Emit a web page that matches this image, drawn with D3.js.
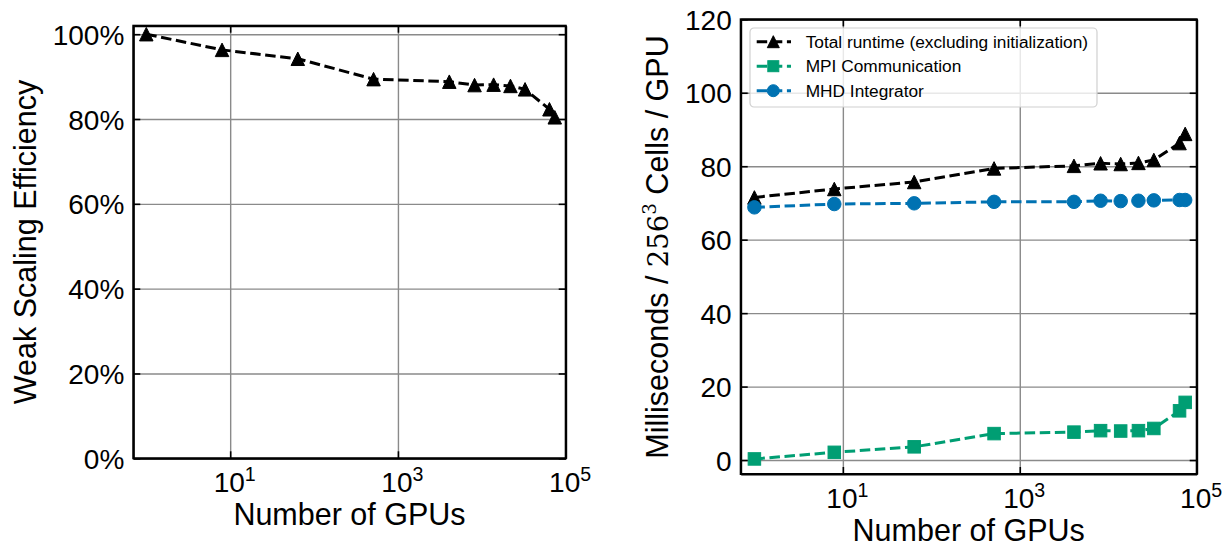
<!DOCTYPE html>
<html>
<head>
<meta charset="utf-8">
<script src="https://cdn.jsdelivr.net/npm/d3@7"></script>
<style>
  body { margin: 0; background: #fff; }
  svg { display: block; font-family: "Liberation Sans", Arial, Helvetica, sans-serif; }
</style>
</head>
<body>
<svg id="chart" width="1225" height="550"></svg>
<script>
// values
var gpus = [1, 8, 64, 512, 4096, 8192, 13824, 21952, 32768, 64000, 74088];
var efficiency = [100, 96.3, 94.2, 89.4, 88.8, 88.0, 88.1, 87.8, 87.0, 82.3, 80.4];
var totalRuntime = [71.5, 73.8, 75.7, 79.4, 80.1, 80.8, 80.6, 80.9, 81.7, 86.3, 88.8];
var mpiComm = [0.3, 2.1, 3.6, 7.2, 7.6, 8.0, 7.9, 8.0, 8.6, 13.4, 15.7];
var mhdIntegrator = [68.8, 69.7, 69.9, 70.3, 70.3, 70.6, 70.5, 70.6, 70.7, 70.8, 70.8];

var xTicks = [10, 1000, 100000];
var effTicks = [0, 20, 40, 60, 80, 100];
var msTicks = [0, 20, 40, 60, 80, 100, 120];

var seriesNames = ["Total runtime (excluding initialization)", "MPI Communication", "MHD Integrator"];
var seriesColors = ["#000000", "#009E73", "#0072B2"];
var seriesMarkers = ["triangle", "square", "circle"];

var svg = d3.select("#chart");
var tickFont = 28;
var labelFont = 30.5;
var markSize = 13.5;

function drawMarker(g, kind, color, size) {
	var h = size / 2;
	if (kind === "triangle") {
		g.append("path").attr("d", "M0," + (-h) + "L" + h + "," + h + "L" + (-h) + "," + h + "Z")
			.attr("fill", color).attr("stroke", color).attr("stroke-width", 1);
	} else if (kind === "square") {
		g.append("rect").attr("x", -h + 0.5).attr("y", -h + 0.5).attr("width", size - 1).attr("height", size - 1)
			.attr("fill", color).attr("stroke", color).attr("stroke-width", 1);
	} else {
		g.append("circle").attr("r", h).attr("fill", color).attr("stroke", color).attr("stroke-width", 1);
	}
}

function makePanel(box, yDomain, yTicks, yFmt) {
	var w = box.right - box.left, h = box.bottom - box.top;
	var x = d3.scaleLog().domain([0.7, 100000]).range([0, w]);
	var y = d3.scaleLinear().domain(yDomain).range([h, 0]);
	var g = svg.append("g").attr("transform", "translate(" + box.left + "," + box.top + ")");

	// grid
	var gx = g.append("g").attr("transform", "translate(0," + h + ")")
		.call(d3.axisBottom(x).tickValues(xTicks).tickSize(-h).tickFormat(""));
	var gy = g.append("g").call(d3.axisLeft(y).tickValues(yTicks).tickSize(-w).tickFormat(""));
	[gx, gy].forEach(function (s) {
		s.select(".domain").remove();
		s.selectAll("line").attr("stroke", "#8a8a8a").attr("stroke-width", 1.4);
	});

	var layer = g.append("g");

	// frame + inward ticks on all sides
	var bottom = g.append("g").attr("transform", "translate(0," + h + ")")
		.call(d3.axisBottom(x).tickValues(xTicks).tickSizeInner(-7).tickSizeOuter(0).tickPadding(10).tickFormat(""));
	var top = g.append("g").call(d3.axisTop(x).tickValues(xTicks).tickSizeInner(-7).tickSizeOuter(0).tickFormat(""));
	var left = g.append("g")
		.call(d3.axisLeft(y).tickValues(yTicks).tickSizeInner(-7).tickSizeOuter(0).tickPadding(9).tickFormat(yFmt));
	var right = g.append("g").attr("transform", "translate(" + w + ",0)")
		.call(d3.axisRight(y).tickValues(yTicks).tickSizeInner(-7).tickSizeOuter(0).tickFormat(""));
	[bottom, top, left, right].forEach(function (s) {
		s.select(".domain").attr("stroke", "#000").attr("stroke-width", 2);
		s.selectAll(".tick line").attr("stroke", "#000").attr("stroke-width", 1.6);
	});
	g.append("rect").attr("width", w).attr("height", h).attr("fill", "none")
		.attr("stroke", "#000").attr("stroke-width", 2);

	left.selectAll(".tick text").attr("font-size", tickFont).attr("fill", "#000")
		.attr("font-family", "Liberation Sans, Arial, sans-serif").attr("dy", "0.36em");

	bottom.selectAll(".tick text").each(function (d) {
		var t = d3.select(this).text("").attr("font-size", tickFont).attr("fill", "#000")
			.attr("font-family", "Liberation Sans, Arial, sans-serif").attr("dy", null).attr("y", 34);
		t.append("tspan").text("10");
		t.append("tspan").attr("font-size", tickFont * 0.7).attr("dy", -11)
			.text(Math.round(Math.log10(d)));
	});
	bottom.selectAll(".tick text").attr("text-anchor", "start").each(function () {
		var bb = this.getBBox();
		d3.select(this).attr("x", -bb.width / 2 + 4);
	});

	g.append("text").attr("x", w / 2).attr("y", h + 67).attr("text-anchor", "middle")
		.attr("font-size", labelFont).text("Number of GPUs");

	return { g: g, layer: layer, x: x, y: y, w: w, h: h };
}

function drawSeries(p, values, color, marker) {
	var pts = gpus.map(function (n, i) { return [p.x(n), p.y(values[i])]; });
	p.layer.append("path").attr("d", d3.line()(pts)).attr("fill", "none")
		.attr("stroke", color).attr("stroke-width", 3).attr("stroke-dasharray", "10.5,4.6");
	pts.forEach(function (pt) {
		var m = p.layer.append("g").attr("transform", "translate(" + pt[0] + "," + pt[1] + ")");
		drawMarker(m, marker, color, markSize);
	});
}

// left panel: weak scaling efficiency
var p1 = makePanel({ left: 133.3, top: 25.7, right: 565.7, bottom: 458.3 }, [0, 102], effTicks,
	function (d) { return d + "%"; });
drawSeries(p1, efficiency, "#000", "triangle");
svg.append("text").attr("transform", "translate(36,242) rotate(-90)").attr("text-anchor", "middle")
	.attr("font-size", labelFont).text("Weak Scaling Efficiency");

// right panel: runtime per GPU
var p2 = makePanel({ left: 740.7, top: 19.3, right: 1196.7, bottom: 474 }, [-3.8, 120], msTicks,
	function (d) { return d; });
drawSeries(p2, totalRuntime, seriesColors[0], seriesMarkers[0]);
drawSeries(p2, mpiComm, seriesColors[1], seriesMarkers[1]);
drawSeries(p2, mhdIntegrator, seriesColors[2], seriesMarkers[2]);

var yl = svg.append("text").attr("transform", "translate(668,247) rotate(-90)").attr("text-anchor", "middle")
	.attr("font-size", labelFont);
yl.append("tspan").text("Milliseconds / ");
yl.append("tspan").attr("font-family", "DejaVu Serif, Liberation Serif, serif").attr("font-size", labelFont * 0.9).text("256");
yl.append("tspan").attr("font-family", "DejaVu Serif, Liberation Serif, serif").attr("font-size", labelFont * 0.6).attr("dy", -12).text("3");
yl.append("tspan").attr("dy", 12).text(" Cells / GPU");

// legend
var lg = svg.append("g").attr("transform", "translate(750,28)");
lg.append("rect").attr("width", 347).attr("height", 79).attr("rx", 4)
	.attr("fill", "#fff").attr("fill-opacity", 0.8).attr("stroke", "#d0d0d0").attr("stroke-width", 1.2);
seriesNames.forEach(function (name, i) {
	var cy = 13.7 + i * 24.5;
	lg.append("line").attr("x1", 6.7).attr("x2", 41).attr("y1", cy).attr("y2", cy)
		.attr("stroke", seriesColors[i]).attr("stroke-width", 3).attr("stroke-dasharray", "10.5,4.6");
	var m = lg.append("g").attr("transform", "translate(23.3," + cy + ")");
	drawMarker(m, seriesMarkers[i], seriesColors[i], 12);
	lg.append("text").attr("x", 55.7).attr("y", cy).attr("dy", "0.36em")
		.attr("font-size", 17.3).text(name);
});
</script>
</body>
</html>
